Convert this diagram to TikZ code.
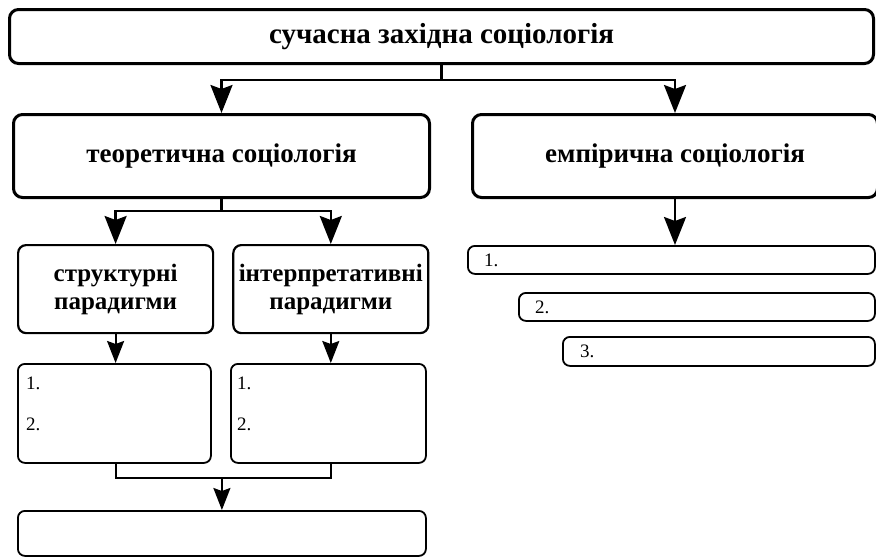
\documentclass[tikz,border=0pt]{standalone}
\usepackage{fontspec}
\setmainfont{Liberation Serif}
\usetikzlibrary{arrows.meta, positioning}
\tikzset{
  bigbox/.style={draw, line width=3pt, rounded corners=9pt, inner sep=0pt, align=center,
    font=\bfseries\fontsize{27}{30}\selectfont},
  parbox/.style={draw, line width=2.2pt, rounded corners=8pt, inner sep=0pt, align=center,
    minimum width=195pt, minimum height=88pt, font=\bfseries\fontsize{25}{28}\selectfont},
  listbox/.style={draw, line width=1.8pt, rounded corners=7pt, inner sep=0pt, anchor=north west},
  numtext/.style={font=\fontsize{19}{22}\selectfont, inner sep=0pt, anchor=west},
  bigarrow/.style={line width=2.6pt, -{Stealth[length=28pt, width=22pt, inset=4pt]}},
  smallarrow/.style={line width=2pt, -{Stealth[length=22pt, width=17pt, inset=3pt]}},
}
\begin{document}
\begin{tikzpicture}[x=1pt, y=1pt]
\useasboundingbox (0,0) rectangle (876,-557);
\node[bigbox, anchor=north west, minimum width=864pt, minimum height=54pt, font=\bfseries\fontsize{29}{32}\selectfont] (top) at (8,-8) {сучасна західна соціологія};
\node[bigbox, anchor=north west, minimum width=416pt, minimum height=83pt] (theory) at (12,-113) {теоретична соціологія};
\node[bigbox, minimum width=405pt, minimum height=83pt, right=40pt of theory] (emp) {емпірична соціологія};
% theoretical branch
\node[parbox, anchor=north west] (struct) at (17,-244) {структурні\\парадигми};
\node[parbox, right=18pt of struct] (interp) {інтерпретативні\\парадигми};
\node[listbox, minimum width=193pt, minimum height=99pt] (slist) at (17,-363) {};
\node[listbox, minimum width=195pt, minimum height=99pt] (ilist) at (230,-363) {};
\node[numtext] (s1) at ([shift={(9,-20)}]slist.north west) {1.};
\node[numtext] (s2) at ([shift={(9,-61)}]slist.north west) {2.};
\node[numtext] (i1) at ([shift={(7,-20)}]ilist.north west) {1.};
\node[numtext] (i2) at ([shift={(7,-61)}]ilist.north west) {2.};
\node[listbox, minimum width=408pt, minimum height=45pt] (result) at (17,-510) {};
% empirical branch
\node[listbox, minimum width=407pt, minimum height=28pt] (e1) at (467,-245) {};
\node[listbox, minimum width=356pt, minimum height=28pt] (e2) at (518,-292) {};
\node[listbox, minimum width=312pt, minimum height=29pt] (e3) at (562,-336) {};
\node[numtext] (n1) at ([xshift=17pt]e1.west) {1.};
\node[numtext] (n2) at ([xshift=17pt]e2.west) {2.};
\node[numtext] (n3) at ([xshift=18pt]e3.west) {3.};
% connectors
\draw[line width=2.6pt] (top.south) -- ++(0,-15) coordinate (split);
\draw[bigarrow] (split) -| (theory.north);
\draw[bigarrow] (split) -| (emp.north);
\draw[line width=2.4pt] (theory.south) -- ++(0,-12) coordinate (tsplit);
\draw[bigarrow] (tsplit) -| (struct.north);
\draw[bigarrow] (tsplit) -| (interp.north);
\draw[smallarrow] (struct.south) -- (struct.south |- slist.north);
\draw[smallarrow] (interp.south) -- (interp.south |- ilist.north);
\draw[line width=1.8pt] (struct.south |- slist.south) -- ++(0,-14) -| (interp.south |- ilist.south);
\draw[smallarrow] (result.north |- slist.south) ++(0,-14) -- (result.north);
\draw[bigarrow] (emp.south) -- (emp.south |- e1.north);
\end{tikzpicture}
\end{document}
